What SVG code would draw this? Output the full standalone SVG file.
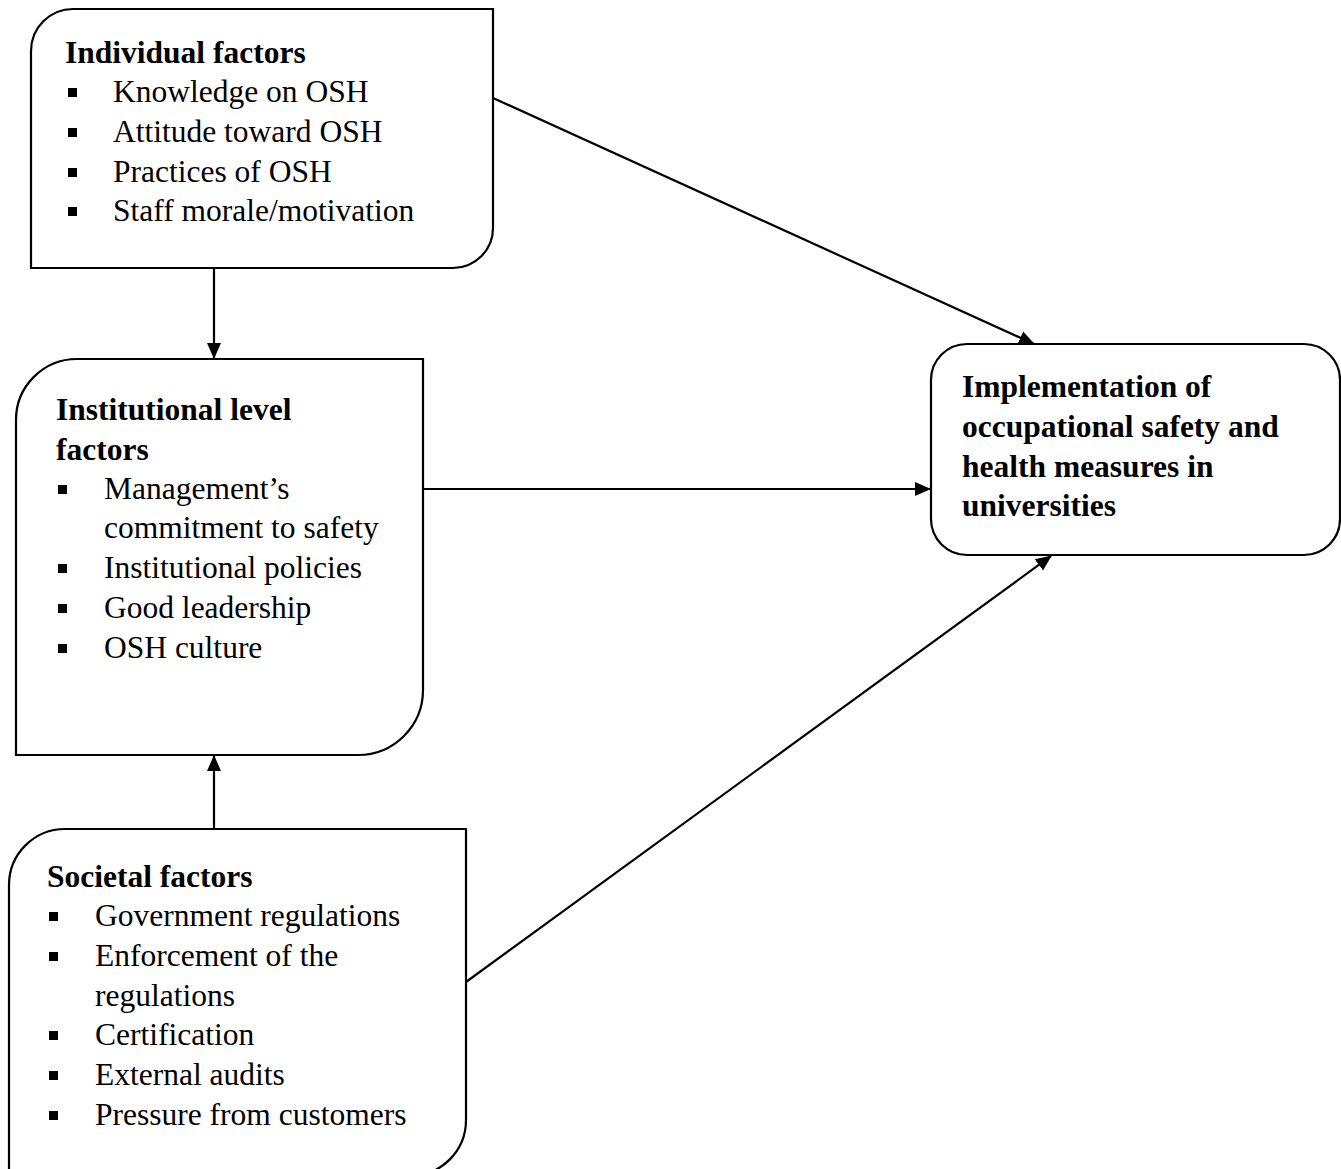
<svg xmlns="http://www.w3.org/2000/svg" width="1341" height="1169" viewBox="0 0 1341 1169">
<style>
.box{fill:#fff;stroke:#000;stroke-width:2.2}
.t{font-family:"Liberation Serif","Times New Roman",serif;font-size:31.5px;fill:#000}
.b{font-weight:bold}
.bul{fill:#000}
.c{stroke:#000;stroke-width:2.2;fill:none;marker-end:url(#ah)}
</style>
<defs>
<marker id="ah" viewBox="0 0 16 16" refX="15" refY="8" markerWidth="16" markerHeight="16" orient="auto" markerUnits="userSpaceOnUse">
<path d="M0,1 L16,8 L0,15 Z" fill="#000"/>
</marker>
</defs>
<rect width="1341" height="1169" fill="#fff"/>

<g id="node-individual">
<path class="box" d="M31,268 V51 A42,42 0 0 1 73,9 H493 V228 A40,40 0 0 1 453,268 Z"/>
<text class="t b" x="65" y="63">Individual factors</text>
<rect class="bul" x="68" y="88" width="9" height="9"/>
<rect class="bul" x="68" y="128" width="9" height="9"/>
<rect class="bul" x="68" y="168" width="9" height="9"/>
<rect class="bul" x="68" y="207" width="9" height="9"/>
<text class="t" x="113" y="102">Knowledge on OSH</text>
<text class="t" x="113" y="142">Attitude toward OSH</text>
<text class="t" x="113" y="182">Practices of OSH</text>
<text class="t" x="113" y="221">Staff morale/motivation</text>
</g>

<g id="node-institutional">
<path class="box" d="M16,755 V420 A61,61 0 0 1 77,359 H423 V690 A65,65 0 0 1 358,755 Z"/>
<text class="t b" x="56" y="420">Institutional level</text>
<text class="t b" x="56" y="460">factors</text>
<rect class="bul" x="58" y="485" width="9" height="9"/>
<rect class="bul" x="58" y="564" width="9" height="9"/>
<rect class="bul" x="58" y="604" width="9" height="9"/>
<rect class="bul" x="58" y="644" width="9" height="9"/>
<text class="t" x="104" y="499">Management’s</text>
<text class="t" x="104" y="538">commitment to safety</text>
<text class="t" x="104" y="578">Institutional policies</text>
<text class="t" x="104" y="618">Good leadership</text>
<text class="t" x="104" y="658">OSH culture</text>
</g>

<g id="node-societal">
<path class="box" d="M9,1176 V885 A56,56 0 0 1 65,829 H466 V1120 A56,56 0 0 1 410,1176 Z"/>
<text class="t b" x="47" y="887">Societal factors</text>
<rect class="bul" x="49" y="912" width="9" height="9"/>
<rect class="bul" x="49" y="952" width="9" height="9"/>
<rect class="bul" x="49" y="1031" width="9" height="9"/>
<rect class="bul" x="49" y="1071" width="9" height="9"/>
<rect class="bul" x="49" y="1111" width="9" height="9"/>
<text class="t" x="95" y="926">Government regulations</text>
<text class="t" x="95" y="966">Enforcement of the</text>
<text class="t" x="95" y="1006">regulations</text>
<text class="t" x="95" y="1045">Certification</text>
<text class="t" x="95" y="1085">External audits</text>
<text class="t" x="95" y="1125">Pressure from customers</text>
</g>

<g id="node-implementation">
<rect class="box" x="931" y="344" width="409" height="211" rx="36" ry="36"/>
<text class="t b" x="962" y="397">Implementation of</text>
<text class="t b" x="962" y="437">occupational safety and</text>
<text class="t b" x="962" y="477">health measures in</text>
<text class="t b" x="962" y="516">universities</text>
</g>

<g id="connectors">
<line class="c" x1="214" y1="268" x2="214" y2="358"/>
<line class="c" x1="214" y1="829" x2="214" y2="756"/>
<line class="c" x1="423" y1="489" x2="930" y2="489"/>
<line class="c" x1="493" y1="98" x2="1034" y2="344"/>
<line class="c" x1="466" y1="982" x2="1051" y2="556"/>
</g>
</svg>
